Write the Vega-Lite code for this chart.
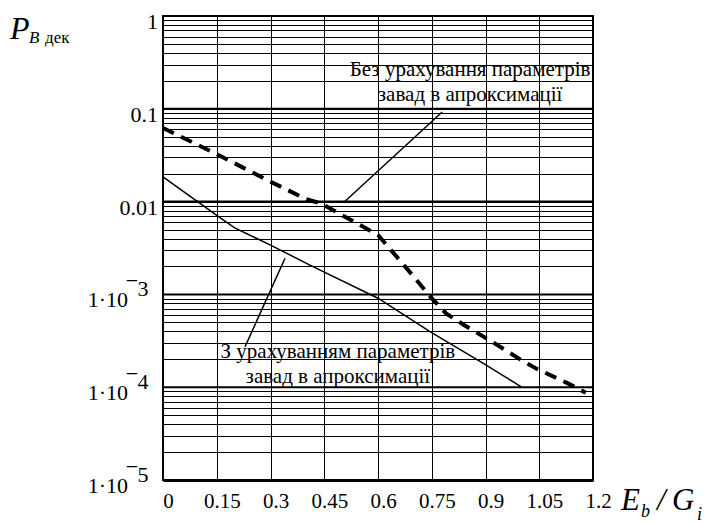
{
  "$schema": "https://vega.github.io/schema/vega-lite/v6.json",
  "width": 430,
  "height": 464,
  "autosize": "none",
  "padding": {"left": 163, "top": 16, "right": 135, "bottom": 45},
  "background": "white",
  "config": {
    "view": {"stroke": "black", "strokeWidth": 2},
    "font": "Liberation Serif",
    "text": {"font": "Liberation Serif", "color": "black"}
  },
  "datasets": {
    "curves": [
      {"series": "approx_without", "x": 0, "y": 0.062},
      {"series": "approx_without", "x": 0.145, "y": 0.0332},
      {"series": "approx_without", "x": 0.3, "y": 0.0164},
      {"series": "approx_without", "x": 0.4, "y": 0.0106},
      {"series": "approx_without", "x": 0.44, "y": 0.0096},
      {"series": "approx_without", "x": 0.6, "y": 0.00436},
      {"series": "approx_without", "x": 0.68, "y": 0.00191},
      {"series": "approx_without", "x": 0.75, "y": 0.000907},
      {"series": "approx_without", "x": 0.79, "y": 0.000625},
      {"series": "approx_without", "x": 0.84, "y": 0.000468},
      {"series": "approx_without", "x": 0.91, "y": 0.000323},
      {"series": "approx_without", "x": 1.0, "y": 0.000196},
      {"series": "approx_without", "x": 1.04, "y": 0.00016},
      {"series": "approx_without", "x": 1.13, "y": 0.00011},
      {"series": "approx_without", "x": 1.18, "y": 0.000087},
      {"series": "approx_with", "x": 0, "y": 0.0185},
      {"series": "approx_with", "x": 0.148, "y": 0.0072},
      {"series": "approx_with", "x": 0.2, "y": 0.0052},
      {"series": "approx_with", "x": 0.3, "y": 0.0034},
      {"series": "approx_with", "x": 0.41, "y": 0.00207},
      {"series": "approx_with", "x": 0.6, "y": 0.00091},
      {"series": "approx_with", "x": 0.745, "y": 0.000396},
      {"series": "approx_with", "x": 0.894, "y": 0.000181},
      {"series": "approx_with", "x": 1.0, "y": 0.000101}
    ],
    "leaders": [
      {"id": "without", "x": 0.508, "y": 0.0101},
      {"id": "without", "x": 0.779, "y": 0.0924},
      {"id": "with", "x": 0.3405, "y": 0.00245},
      {"id": "with", "x": 0.229, "y": 0.000273}
    ],
    "decades": [
      {"v": 1, "base": "1"},
      {"v": 0.1, "base": "0.1"},
      {"v": 0.01, "base": "0.01"},
      {"v": 0.001, "base": "1·10", "e": "3"},
      {"v": 0.0001, "base": "1·10", "e": "4"},
      {"v": 0.00001, "base": "1·10", "e": "5"}
    ],
    "single": [{}]
  },
  "layer": [
    {
      "data": {"name": "decades"},
      "mark": {"type": "rule", "color": "black", "strokeWidth": 2},
      "encoding": {
        "y": {
          "field": "v",
          "type": "quantitative",
          "scale": {"type": "log", "domain": [0.00001, 1], "nice": false},
          "axis": {
            "values": [
              0.00001, 0.00002, 0.00003, 0.00004, 0.00005, 0.00006, 0.00007, 0.00008, 0.00009,
              0.0001, 0.0002, 0.0003, 0.0004, 0.0005, 0.0006, 0.0007, 0.0008, 0.0009,
              0.001, 0.002, 0.003, 0.004, 0.005, 0.006, 0.007, 0.008, 0.009,
              0.01, 0.02, 0.03, 0.04, 0.05, 0.06, 0.07, 0.08, 0.09,
              0.1, 0.2, 0.3, 0.4, 0.5, 0.6, 0.7, 0.8, 0.9, 1
            ],
            "labels": false,
            "ticks": false,
            "domain": false,
            "title": null,
            "grid": true,
            "gridColor": "black",
            "gridOpacity": 1,
            "gridWidth": 1
          }
        }
      }
    },
    {
      "data": {"name": "curves"},
      "transform": [{"filter": "datum.series === 'approx_without'"}],
      "mark": {"type": "line", "color": "black", "strokeWidth": 4, "strokeDash": [12, 8]},
      "encoding": {
        "x": {
          "field": "x",
          "type": "quantitative",
          "scale": {"domain": [0, 1.2], "nice": false, "zero": false},
          "axis": {
            "values": [0, 0.15, 0.3, 0.45, 0.6, 0.75, 0.9, 1.05, 1.2],
            "labelExpr": "datum.value === 0 ? '0' : format(datum.value, '.2~f')",
            "labelFont": "Liberation Serif",
            "labelFontSize": 21,
            "labelColor": "black",
            "labelPadding": 21,
            "labelBaseline": "middle",
            "labelOffset": 5,
            "labelFlush": false,
            "labelOverlap": false,
            "ticks": false,
            "tickSize": 0,
            "domain": true,
            "domainColor": "black",
            "domainWidth": 3,
            "title": null,
            "grid": true,
            "gridColor": "black",
            "gridOpacity": 1,
            "gridWidth": 1
          }
        },
        "y": {"field": "y", "type": "quantitative"}
      }
    },
    {
      "data": {"name": "curves"},
      "transform": [{"filter": "datum.series === 'approx_with'"}],
      "mark": {"type": "line", "color": "black", "strokeWidth": 1.5},
      "encoding": {
        "x": {"field": "x", "type": "quantitative"},
        "y": {"field": "y", "type": "quantitative"}
      }
    },
    {
      "data": {"name": "leaders"},
      "mark": {"type": "line", "color": "black", "strokeWidth": 1.5},
      "encoding": {
        "x": {"field": "x", "type": "quantitative"},
        "y": {"field": "y", "type": "quantitative"},
        "detail": {"field": "id"}
      }
    },
    {
      "data": {"name": "decades"},
      "transform": [{"filter": "!datum.e"}],
      "mark": {"type": "text", "font": "Liberation Serif", "align": "right", "baseline": "middle", "dx": -5, "dy": 6, "fontSize": 22},
      "encoding": {
        "x": {"datum": 0},
        "y": {"field": "v", "type": "quantitative"},
        "text": {"field": "base"}
      }
    },
    {
      "data": {"name": "decades"},
      "transform": [{"filter": "datum.e"}],
      "mark": {"type": "text", "font": "Liberation Serif", "align": "right", "baseline": "middle", "dx": -35, "dy": 6, "fontSize": 22},
      "encoding": {
        "x": {"datum": 0},
        "y": {"field": "v", "type": "quantitative"},
        "text": {"field": "base"}
      }
    },
    {
      "data": {"name": "decades"},
      "transform": [{"filter": "datum.e"}],
      "mark": {"type": "text", "font": "Liberation Serif", "align": "center", "baseline": "middle", "dx": -31, "dy": -13, "fontSize": 22, "text": "−"},
      "encoding": {
        "x": {"datum": 0},
        "y": {"field": "v", "type": "quantitative"}
      }
    },
    {
      "data": {"name": "decades"},
      "transform": [{"filter": "datum.e"}],
      "mark": {"type": "text", "font": "Liberation Serif", "align": "center", "baseline": "middle", "dx": -20, "dy": -5, "fontSize": 22},
      "encoding": {
        "x": {"datum": 0},
        "y": {"field": "v", "type": "quantitative"},
        "text": {"field": "e"}
      }
    },
    {
      "data": {"name": "single"},
      "mark": {"type": "text", "font": "Liberation Serif", "align": "center", "baseline": "middle", "fontSize": 21, "lineHeight": 25, "lineBreak": "\n",
               "text": "Без  урахування параметрів\nзавад в апроксимації"},
      "encoding": {"x": {"datum": 0.857}, "y": {"datum": 0.26}}
    },
    {
      "data": {"name": "single"},
      "mark": {"type": "text", "font": "Liberation Serif", "align": "center", "baseline": "middle", "fontSize": 21, "lineHeight": 25, "lineBreak": "\n",
               "text": "З урахуванням параметрів\nзавад в апроксимації"},
      "encoding": {"x": {"datum": 0.488}, "y": {"datum": 0.000241}}
    },
    {
      "data": {"name": "single"},
      "mark": {"type": "text", "font": "Liberation Serif", "align": "left", "baseline": "alphabetic", "fontSize": 32, "fontStyle": "italic", "dx": -153, "dy": 23, "text": "P"},
      "encoding": {"x": {"datum": 0}, "y": {"datum": 1}}
    },
    {
      "data": {"name": "single"},
      "mark": {"type": "text", "font": "Liberation Serif", "align": "left", "baseline": "alphabetic", "fontSize": 17, "fontStyle": "italic", "dx": -134, "dy": 27, "text": "B"},
      "encoding": {"x": {"datum": 0}, "y": {"datum": 1}}
    },
    {
      "data": {"name": "single"},
      "mark": {"type": "text", "font": "Liberation Serif", "align": "left", "baseline": "alphabetic", "fontSize": 17, "dx": -118, "dy": 27, "text": "дек"},
      "encoding": {"x": {"datum": 0}, "y": {"datum": 1}}
    },
    {
      "data": {"name": "single"},
      "mark": {"type": "text", "font": "Liberation Serif", "align": "left", "baseline": "alphabetic", "fontSize": 31, "fontStyle": "italic", "dx": 28, "dy": 30, "text": "E"},
      "encoding": {"x": {"datum": 1.2}, "y": {"datum": 0.00001}}
    },
    {
      "data": {"name": "single"},
      "mark": {"type": "text", "font": "Liberation Serif", "align": "left", "baseline": "alphabetic", "fontSize": 18, "fontStyle": "italic", "dx": 48, "dy": 37, "text": "b"},
      "encoding": {"x": {"datum": 1.2}, "y": {"datum": 0.00001}}
    },
    {
      "data": {"name": "single"},
      "mark": {"type": "text", "font": "Liberation Serif", "align": "left", "baseline": "alphabetic", "fontSize": 31, "fontStyle": "italic", "dx": 64, "dy": 30, "text": "/"},
      "encoding": {"x": {"datum": 1.2}, "y": {"datum": 0.00001}}
    },
    {
      "data": {"name": "single"},
      "mark": {"type": "text", "font": "Liberation Serif", "align": "left", "baseline": "alphabetic", "fontSize": 31, "fontStyle": "italic", "dx": 79, "dy": 30, "text": "G"},
      "encoding": {"x": {"datum": 1.2}, "y": {"datum": 0.00001}}
    },
    {
      "data": {"name": "single"},
      "mark": {"type": "text", "font": "Liberation Serif", "align": "left", "baseline": "alphabetic", "fontSize": 18, "fontStyle": "italic", "dx": 104, "dy": 40, "text": "i"},
      "encoding": {"x": {"datum": 1.2}, "y": {"datum": 0.00001}}
    }
  ]
}
